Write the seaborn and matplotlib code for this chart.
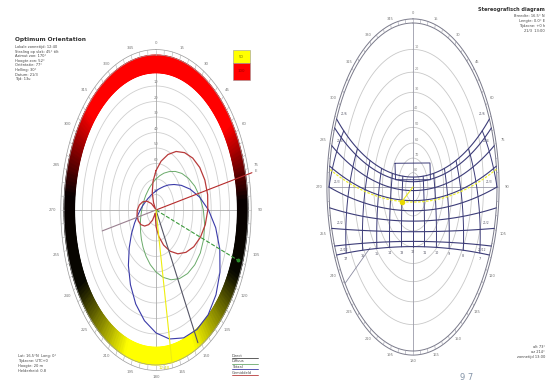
import numpy as np
import pandas as pd
import matplotlib
matplotlib.use("Agg")
import matplotlib.pyplot as plt
import seaborn as sns
from matplotlib.colors import LinearSegmentedColormap
from matplotlib.lines import Line2D
from matplotlib.patches import Rectangle

# ---------------- data: left diagram (orientation) ----------------
dir_az = list(range(0, 360, 10))
red_r = [0.254, 0.320, 0.381, 0.436, 0.483, 0.521, 0.549, 0.565, 0.570, 0.563,
         0.544, 0.514, 0.474, 0.425, 0.369, 0.307, 0.241, 0.173, 0.106, 0.040,
         0.021, 0.076, 0.123, 0.161, 0.189, 0.205, 0.210, 0.203, 0.184, 0.154,
         0.114, 0.065, 0.009, 0.053, 0.119, 0.187]
green_r = [0.200, 0.224, 0.253, 0.286, 0.325, 0.367, 0.408, 0.449, 0.485, 0.515,
           0.537, 0.551, 0.556, 0.550, 0.535, 0.511, 0.479, 0.441, 0.400, 0.358,
           0.317, 0.280, 0.247, 0.219, 0.196, 0.179, 0.165, 0.155, 0.149, 0.145,
           0.144, 0.146, 0.149, 0.157, 0.167, 0.181]
blue_r = [0.123, 0.135, 0.151, 0.176, 0.211, 0.256, 0.318, 0.394, 0.481, 0.571,
          0.659, 0.738, 0.803, 0.851, 0.882, 0.890, 0.878, 0.845, 0.793, 0.725,
          0.645, 0.556, 0.467, 0.380, 0.308, 0.248, 0.203, 0.171, 0.149, 0.132,
          0.121, 0.115, 0.110, 0.110, 0.112, 0.115]
ring_levels = [0.1, 0.2, 0.3, 0.4, 0.5, 0.6, 0.7, 0.8]
ring_labels = ["80", "70", "60", "50", "40", "30", "20", "10"]
ray_az = [77, 257, 110, 152, 170]
ray_len = [1.07, 0.60, 0.95, 0.97, 1.0]
ray_col = ["#b52a2a", "#9a8090", "#3c9a3c", "#555566", "#eeee10"]
ray_ls = ["-", "-", "--", "-", "-"]
band_deg = [0, 55, 86, 115, 155, 200, 240, 276, 312, 360]
band_col = ["#ff0000", "#ff0000", "#080000", "#080800", "#ffff00",
            "#ffff00", "#080800", "#080000", "#ff0000", "#ff0000"]
azimuth_ticks = list(range(0, 360, 15))

# ---------------- data: right diagram (sun path) ----------------
latitude = 16.5
declinations = [23.44, 20.2, 14.0, 7.0, 0.0, -7.0, -14.0, -20.2, -23.44]
date_labels = ["21/6", "21/5", "21/4", "8/4", "21/3", "6/3", "21/2", "21/1", "21/12"]
hours = list(range(6, 19))
altitude_rings = [10, 20, 30, 40, 50, 60, 70, 80]
marked_decl = 6.0
marked_hour = 13.0
obst_az = [304, 54, 78, 282, 304]
obst_alt = [61, 62, 66, 66, 61]
side_ray_az = [234]
side_ray_from = [0.63]

# ---------------- figure ----------------
sns.set_theme(style="white")
plt.rcParams["font.family"] = ["DejaVu Sans"]
W, H = 560, 382
fig = plt.figure(figsize=(5.6, 3.82), dpi=100)
fig.patch.set_facecolor("white")


def fx(x):
    return x / W


def fy(y):
    return 1 - y / H


def place(cx, cy, rx, ry, ex, ey):
    l = cx - ex * rx
    b = cy + ey * ry
    ax = fig.add_axes([l / W, 1 - b / H, 2 * ex * rx / W, 2 * ey * ry / H])
    ax.set_xlim(-ex, ex)
    ax.set_ylim(-ey, ey)
    ax.axis("off")
    return ax


def pol(az, r):
    a = np.radians(np.asarray(az, dtype=float))
    r = np.asarray(r, dtype=float)
    return r * np.sin(a), r * np.cos(a)


def label_pos(az, rx, ry, gap_px):
    # point on the unit ellipse pushed outward by a constant pixel gap
    s, c = np.sin(np.radians(az)), np.cos(np.radians(az))
    px, py = s * rx, c * ry
    n = np.hypot(px, py)
    return s + gap_px * (px / n) / rx, c + gap_px * (py / n) / ry


def closed_df(az, r):
    az = list(az) + [az[0]]
    r = list(r) + [r[0]]
    x, y = pol(az, r)
    return pd.DataFrame({"x": x, "y": y, "i": np.arange(len(x))})


full = np.linspace(0, 360, 721)

# ======== LEFT ========
LRX, LRY = 92, 155
axL = place(156, 210, LRX, LRY, 1.35, 1.32)

for lv in ring_levels:
    x, y = pol(full, np.full_like(full, lv))
    axL.plot(x, y, color="#cfcfcf", lw=0.6, zorder=1)
axL.plot([-0.95, 0.95], [0, 0], color="#aaaaaa", lw=0.6, zorder=1)
axL.plot([0, 0], [-0.95, 0.95], color="#aaaaaa", lw=0.6, zorder=1)
for lv, lab in zip(ring_levels, ring_labels):
    axL.text(0.0, lv + 0.01, lab, fontsize=2.6, color="#888888", ha="center", va="bottom", zorder=2)

cmap = LinearSegmentedColormap.from_list(
    "band", [(d / 360.0, c) for d, c in zip(band_deg, band_col)])
T, R = np.meshgrid(full, [0.885, 1.0])
BX, BY = pol(T, R)
axL.pcolormesh(BX, BY, T, cmap=cmap, vmin=0, vmax=360, shading="gouraud", zorder=3)
for rr in [1.0, 1.035]:
    x, y = pol(full, np.full_like(full, rr))
    axL.plot(x, y, color="#9a9a9a", lw=0.5, zorder=4)
for a in range(0, 360, 5):
    x, y = pol([a, a], [1.0, 1.035])
    axL.plot(x, y, color="#b0b0b0", lw=0.4, zorder=4)
for a in azimuth_ticks:
    x, y = label_pos(a, LRX, LRY, 12)
    axL.text(x, y, str(a), fontsize=2.8, color="#777777", ha="center", va="center")

sns.lineplot(data=closed_df(dir_az, red_r), x="x", y="y", sort=False, estimator=None,
             color="#b83a3a", lw=0.9, ax=axL, zorder=6)
sns.lineplot(data=closed_df(dir_az, green_r), x="x", y="y", sort=False, estimator=None,
             color="#6aaa6a", lw=0.7, ax=axL, zorder=5)
sns.lineplot(data=closed_df(dir_az, blue_r), x="x", y="y", sort=False, estimator=None,
             color="#3a3aa8", lw=0.8, ax=axL, zorder=5)

for az, ln, c, ls in zip(ray_az, ray_len, ray_col, ray_ls):
    x, y = pol([az, az], [0, ln])
    axL.plot(x, y, color=c, lw=0.8, ls=ls, zorder=7)
gx, gy = pol(ray_az[2], ray_len[2])
axL.plot([gx], [gy], "o", color="#2a8a2a", ms=1.8, zorder=8)
yx, yy = pol(ray_az[4], ray_len[4])
axL.text(yx - 0.08, yy - 0.035, "12:40", fontsize=2.8, color="#d8d800", ha="center",
         va="center", zorder=8)
rx_, ry_ = pol(ray_az[0], ray_len[0] + 0.04)
axL.text(rx_, ry_, "E", fontsize=2.8, color="#777777", ha="center", va="center")
axL.set_xlabel("")
axL.set_ylabel("")

fig.add_artist(Rectangle((fx(233), fy(63)), 17 / W, 13 / H, transform=fig.transFigure,
                         facecolor="#ffff00", edgecolor="#999999", lw=0.4))
fig.add_artist(Rectangle((fx(233), fy(80)), 17 / W, 17 / H, transform=fig.transFigure,
                         facecolor="#ff0000", edgecolor="#999999", lw=0.4))
fig.text(fx(241.5), fy(56.5), "50", fontsize=2.8, color="#777700", ha="center", va="center")
fig.text(fx(241.5), fy(71.5), "100", fontsize=2.8, color="#990000", ha="center", va="center")

fig.text(fx(15), fy(40), "Optimum Orientation", fontsize=4.2, color="#333333",
         ha="left", va="center", fontweight="bold")
top_lines = ["Lokale zonnetijd: 12:40", "Straling op vlak: 45\u00b0 tilt",
             "Azimut zon: 170\u00b0", "Hoogte zon: 52\u00b0",
             "Oriëntatie: 77\u00b0", "Helling: 30\u00b0", "Datum: 21/3", "Tijd: 13u"]
for i, t in enumerate(top_lines):
    fig.text(fx(15), fy(47 + i * 4.6), t, fontsize=2.6, color="#444444", ha="left", va="center")
bl_lines = ["Lat: 16.5\u00b0N  Long: 0\u00b0", "Tijdzone: UTC+0", "Hoogte: 20 m",
            "Helderheid: 0.8"]
for i, t in enumerate(bl_lines):
    fig.text(fx(18), fy(356 + i * 5), t, fontsize=2.6, color="#444444", ha="left", va="center")
lg_lines = ["Direct", "Diffuus", "Totaal", "Gemiddeld"]
lg_cols = ["#444444", "#6aaa6a", "#3a3aa8", "#b83a3a"]
for i, (t, c) in enumerate(zip(lg_lines, lg_cols)):
    yy_ = 356 + i * 5.5
    fig.text(fx(232), fy(yy_), t, fontsize=2.6, color="#444444", ha="left", va="center")
    fig.add_artist(Line2D([fx(232), fx(258)], [fy(yy_ + 2.2)] * 2, color=c, lw=0.6,
                          transform=fig.transFigure))

# ======== RIGHT ========
RRX, RRY = 84, 164
axR = place(413, 187, RRX, RRY, 1.4, 1.2)


def stereo(alt):
    return np.tan(np.radians(90.0 - np.asarray(alt, dtype=float)) / 2.0)


for alt in altitude_rings:
    x, y = pol(full, np.full_like(full, stereo(alt)))
    axR.plot(x, y, color="#c8c8c8", lw=0.6, zorder=1)
    axR.text(0.015, stereo(alt) + 0.005, str(alt), fontsize=2.4, color="#888888",
             ha="left", va="bottom")
for rr in [1.0, 1.025]:
    x, y = pol(full, np.full_like(full, rr))
    axR.plot(x, y, color="#7a7a8a", lw=0.7, zorder=2)
for a in range(0, 360, 5):
    x, y = pol([a, a], [1.0, 1.025])
    axR.plot(x, y, color="#9a9aa8", lw=0.4, zorder=2)
for a in azimuth_ticks:
    x, y = label_pos(a, RRX, RRY, 10)
    axR.text(x, y, str(a), fontsize=2.6, color="#777777", ha="center", va="center")
axR.plot([-1, 1], [0, 0], color="#9a9aa8", lw=0.6, zorder=1)
axR.plot([0, 0], [-1, 1], color="#9a9aa8", lw=0.6, zorder=1)
for az, r0 in zip(side_ray_az, side_ray_from):
    x, y = pol([az, az], [r0, 1.0])
    axR.plot(x, y, color="#8a8aa0", lw=0.6, zorder=2)

phi = np.radians(latitude)


def sun_xy(decl, hang):
    d = np.radians(np.asarray(decl, dtype=float))
    h = np.radians(np.asarray(hang, dtype=float))
    s_alt = np.sin(phi) * np.sin(d) + np.cos(phi) * np.cos(d) * np.cos(h)
    s_alt = np.clip(s_alt, -1, 1)
    alt = np.degrees(np.arcsin(s_alt))
    cosA = (np.sin(d) - s_alt * np.sin(phi)) / (np.cos(np.radians(alt)) * np.cos(phi))
    A = np.degrees(np.arccos(np.clip(cosA, -1, 1)))
    A = np.where(h > 0, 360 - A, A)
    x, y = pol(A, stereo(np.maximum(alt, 0)))
    x = np.where(alt >= -1e-9, x, np.nan)
    y = np.where(alt >= -1e-9, y, np.nan)
    return x, y


rows = []
for k, dcl in enumerate(declinations):
    H0 = np.degrees(np.arccos(-np.tan(phi) * np.tan(np.radians(dcl))))
    hh = np.linspace(-H0, H0, 121)
    x, y = sun_xy(dcl, hh)
    rows.append(pd.DataFrame({"x": x, "y": y, "curve": k, "i": np.arange(len(hh))}))
path_df = pd.concat(rows, ignore_index=True)
sns.lineplot(data=path_df, x="x", y="y", units="curve", sort=False, estimator=None,
             color="#3c3c78", lw=0.8, ax=axR, zorder=4)
for k, (dcl, lab) in enumerate(zip(declinations, date_labels)):
    if k % 2 == 0:
        H0 = np.degrees(np.arccos(-np.tan(phi) * np.tan(np.radians(dcl))))
        for sgn in (-1, 1):
            x, y = sun_xy(dcl, sgn * H0)
            axR.text(float(x) * 0.9, float(y) + 0.03, lab, fontsize=2.2,
                     color="#555566", ha="center", va="center", zorder=6)

hrows = []
dd = np.linspace(min(declinations), max(declinations), 25)
for t in hours:
    x, y = sun_xy(dd, np.full_like(dd, 15.0 * (t - 12)))
    hrows.append(pd.DataFrame({"x": x, "y": y, "curve": t, "i": np.arange(len(dd))}))
hour_df = pd.concat(hrows, ignore_index=True)
sns.lineplot(data=hour_df, x="x", y="y", units="curve", sort=False, estimator=None,
             color="#3c3c78", lw=0.7, ax=axR, zorder=4)
for t in hours:
    x, y = sun_xy(min(declinations), 15.0 * (t - 12))
    if np.isfinite(x) and 7 <= t <= 17:
        axR.text(float(x), float(y) - 0.035, str(t), fontsize=2.4, color="#555566",
                 ha="center", va="center")

ox, oy = pol(obst_az, stereo(obst_alt))
axR.plot(ox, oy, color="#3c3c78", lw=0.7, zorder=4)

H0m = np.degrees(np.arccos(-np.tan(phi) * np.tan(np.radians(marked_decl))))
hm = np.linspace(-H0m, H0m, 121)
mx, my = sun_xy(marked_decl, hm)
axR.plot(mx, my, color="#eeee30", lw=0.9, ls=(0, (2, 1.2)), zorder=5)
sx, sy = sun_xy(marked_decl, 15.0 * (marked_hour - 12))
axR.plot([0, float(sx)], [0, float(sy)], color="#e8e820", lw=0.8, zorder=6)
axR.plot([float(sx)], [float(sy)], "o", color="#e8d800", ms=3, zorder=7)
axR.set_xlabel("")
axR.set_ylabel("")

fig.text(fx(545), fy(9), "Stereografisch diagram", fontsize=3.6, color="#333333",
         ha="right", va="center", fontweight="bold")
tr_lines = ["Breedte: 16.5\u00b0 N", "Lengte: 0.0\u00b0 E", "Tijdzone: +0 h", "21/3  13:00"]
for i, t in enumerate(tr_lines):
    fig.text(fx(545), fy(16 + i * 5), t, fontsize=2.6, color="#444444", ha="right", va="center")
br_lines = ["alt 73\u00b0", "az 214\u00b0", "zonnetijd 13:00"]
for i, t in enumerate(br_lines):
    fig.text(fx(545), fy(347 + i * 5), t, fontsize=2.6, color="#444444", ha="right", va="center")
fig.text(fx(467), fy(377), "9 7", fontsize=6, color="#8494a8", ha="center", va="center")

fig.savefig("out.png", dpi=100, facecolor="white")
